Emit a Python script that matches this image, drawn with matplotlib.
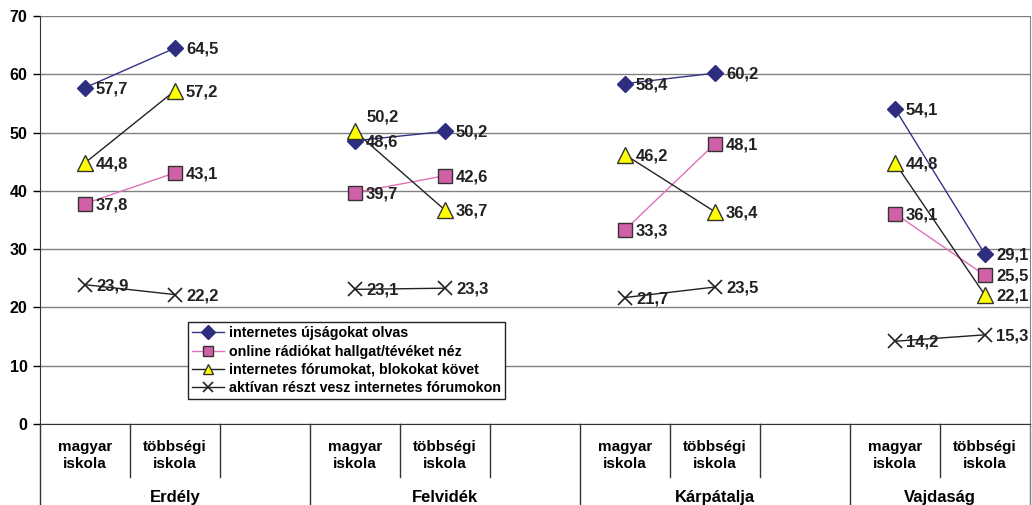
import numpy as np
import matplotlib.pyplot as plt
from matplotlib.transforms import blended_transform_factory

plt.rcParams['font.family'] = ['Liberation Sans', 'DejaVu Sans']
plt.rcParams['font.weight'] = 'bold'

# data
regions = ['Erdély', 'Felvidék', 'Kárpátalja', 'Vajdaság']
schools = ['magyar\niskola', 'többségi\niskola']
series_names = ['internetes újságokat olvas',
                'online rádiókat hallgat/tévéket néz',
                'internetes fórumokat, blokokat követ',
                'aktívan részt vesz internetes fórumokon']
ujsag = [[57.7, 64.5], [48.6, 50.2], [58.4, 60.2], [54.1, 29.1]]
radio = [[37.8, 43.1], [39.7, 42.6], [33.3, 48.1], [36.1, 25.5]]
forum = [[44.8, 57.2], [50.2, 36.7], [46.2, 36.4], [44.8, 22.1]]
aktiv = [[23.9, 22.2], [23.1, 23.3], [21.7, 23.5], [14.2, 15.3]]

styles = [
    dict(color='#333388', marker='D', mfc='#2e2e80', mec='#2e2e80', ms=8),
    dict(color='#e070b8', marker='s', mfc='#d060a8', mec='#333333', ms=10),
    dict(color='#222222', marker='^', mfc='#ffff00', mec='#333333', ms=11),
    dict(color='#222222', marker='x', mfc='none', mec='#222222', ms=10, mew=1.2),
]

fig = plt.figure(figsize=(10.32, 5.05), dpi=100)
ax = fig.add_axes([40 / 1032, 81 / 505, 990 / 1032, 408 / 505])

all_series = [ujsag, radio, forum, aktiv]
for s, (vals, st) in enumerate(zip(all_series, styles)):
    for r, pair in enumerate(vals):
        xs = [3 * r, 3 * r + 1]
        ax.plot(xs, pair, lw=1, zorder=3, clip_on=False,
                label=series_names[s] if r == 0 else None, **st)
        for x, v in zip(xs, pair):
            off = (11, -1)
            if s == 2 and r == 1 and x == 3:
                off = (12, 14)
            ax.annotate(f'{v:.1f}'.replace('.', ','), (x, v), xytext=off,
                        textcoords='offset pixels', va='center', ha='left',
                        fontsize=12, fontweight='bold', color='#222222',
                        zorder=4, annotation_clip=False)

ax.set_xlim(-0.5, 10.5)
ax.set_ylim(0, 70)
ax.set_yticks(range(0, 71, 10))
ax.tick_params(axis='y', length=5, width=1, labelsize=11.5, pad=4)
for lab in ax.get_yticklabels():
    lab.set_fontweight('bold')
ax.set_xticks([])
ax.grid(axis='y', color='#808080', lw=1)
ax.set_axisbelow(True)
ax.spines['top'].set_visible(False)
ax.spines['right'].set_color('#808080')
ax.spines['bottom'].set_color('#333333')
ax.spines['left'].set_color('#333333')

# category axis
tr = blended_transform_factory(ax.transData, ax.transAxes)
for r, name in enumerate(regions):
    for k, sch in enumerate(schools):
        ax.text(3 * r + k, -0.078, sch, transform=tr, ha='center', va='center',
                fontsize=11, fontweight='bold', linespacing=1.3)
    cx = 3 * r + 1 if r < 3 else 3 * r + 0.5
    ax.text(cx, -0.179, name, transform=tr, ha='center', va='center',
            fontsize=12, fontweight='bold')
    ax.plot([3 * r - 0.5] * 2, [0, -0.25], transform=tr, color='#333333',
            lw=1, clip_on=False)
    for k in (0.5, 1.5):
        if 3 * r + k < 10.5:
            ax.plot([3 * r + k] * 2, [0, -0.13], transform=tr, color='#333333',
                    lw=1, clip_on=False)
ax.plot([10.5] * 2, [0, -0.25], transform=tr, color='#808080', lw=1, clip_on=False)

leg = ax.legend(loc='upper left', bbox_to_anchor=(0.1495, 0.25), borderaxespad=0,
                fancybox=False, framealpha=1, edgecolor='#222222',
                prop={'size': 10.3, 'weight': 'bold'}, handlelength=2.2,
                labelspacing=0.3, borderpad=0.3, handletextpad=0.35)
leg.get_frame().set_linewidth(1)
for h in leg.legend_handles:
    h.set_markersize(7)

fig.savefig('out.png', dpi=100)
